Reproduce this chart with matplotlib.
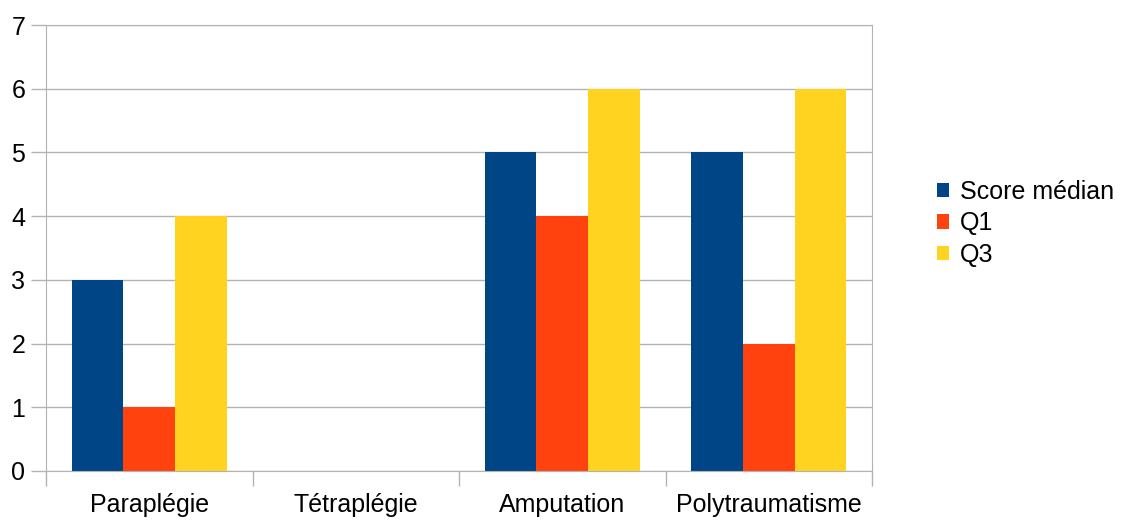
import matplotlib
matplotlib.use('Agg')
import matplotlib.pyplot as plt
import numpy as np

plt.rcParams['font.family'] = ['Liberation Sans', 'DejaVu Sans']

categories = ['Paraplégie', 'Tétraplégie', 'Amputation', 'Polytraumatisme']
score_median = [3, 0, 5, 5]
q1 = [1, 0, 4, 2]
q3 = [4, 0, 6, 6]
series_names = ['Score médian', 'Q1', 'Q3']
colors = ['#004586', '#ff420e', '#ffd320']

fig = plt.figure(figsize=(11.37, 5.2), dpi=100)
ax = fig.add_axes([46 / 1137, 1 - 471 / 520, (872 - 46) / 1137, (471 - 25) / 520])

x = np.arange(len(categories))
w = 0.25
for i, (vals, name) in enumerate(zip([score_median, q1, q3], series_names)):
    ax.bar(x + (i - 1) * w, vals, w, color=colors[i], label=name, zorder=2)

ax.set_xlim(-0.5, len(categories) - 0.5)
ax.set_ylim(0, 7)
ax.set_yticks(range(0, 8))
ax.yaxis.grid(True, color='#b3b3b3', linewidth=1, zorder=0)

# ticks aux frontières des catégories, étiquettes au centre
ax.set_xticks(np.arange(-0.5, len(categories), 1))
ax.set_xticklabels([])
ax.set_xticks(x, minor=True)
ax.set_xticklabels(categories, minor=True)
ax.tick_params(axis='x', which='major', length=11, color='#b3b3b3', width=1)
ax.tick_params(axis='x', which='minor', length=0, pad=16, labelsize=18)
ax.tick_params(axis='y', length=11, color='#b3b3b3', width=1, labelsize=18, pad=4)

for s in ax.spines.values():
    s.set_color('#b3b3b3')

ax.legend(loc='center left', bbox_to_anchor=(1.066, 0.555), frameon=False,
          fontsize=18, handlelength=0.5, handleheight=0.5, handletextpad=0.45,
          labelspacing=0.3, borderaxespad=0)

fig.savefig('out.png', dpi=100)
